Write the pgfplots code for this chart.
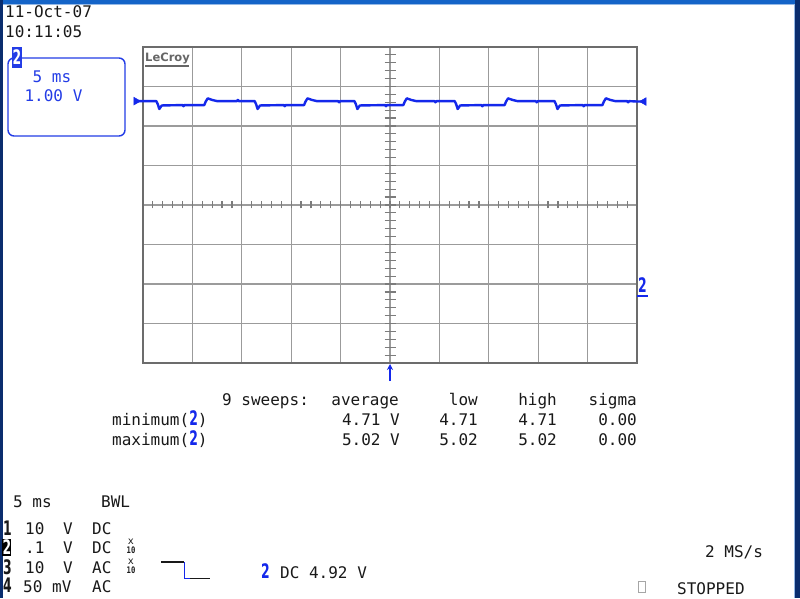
\documentclass[border=0pt]{standalone}
\usepackage{pgfplots}
\pgfplotsset{compat=1.18}
\usepackage{fontspec}
\setmainfont{DejaVu Sans Mono}
\newfontfamily\sansfam{DejaVu Sans}
\usetikzlibrary{arrows.meta}
\definecolor{scopeblue}{RGB}{20,40,235}
\definecolor{uiblue}{RGB}{35,60,230}
\definecolor{frameblue}{RGB}{20,100,200}
\definecolor{framedark}{RGB}{10,45,110}
\definecolor{gridgray}{RGB}{155,155,155}
\definecolor{txt}{RGB}{25,25,25}
\newcommand{\chn}[1]{\scalebox{0.62}[1.0]{\sansfam\bfseries\fontsize{20}{20}\selectfont #1}}
\begin{document}
\begin{tikzpicture}[x=1pt,y=1pt,font=\fontsize{16}{19}\selectfont,
  t/.style={anchor=base west,inner sep=0pt,text=txt},
  te/.style={anchor=base east,inner sep=0pt,text=txt}]
\path[use as bounding box, fill=white] (0,0) rectangle (800,598);
% outer window frame
\fill[frameblue] (0,594) rectangle (800,598);
\fill[frameblue!45!white] (0,592.5) rectangle (800,594);
\fill[framedark] (0,0) rectangle (3,598);
\fill[framedark] (795,0) rectangle (800,598);
\fill[frameblue!45!white] (793.5,0) rectangle (795,592.5);

\begin{axis}[at={(143pt,235pt)}, anchor=south west,
  width=494pt, height=316pt, scale only axis,
  xmin=0, xmax=10, ymin=-4, ymax=4,
  xtick={0,1,...,10}, ytick={-4,-3,...,4},
  xticklabels={}, yticklabels={},
  tick style={draw=none},
  grid=major, grid style={gridgray, line width=1.3pt},
  axis line style={gridgray!70!black, line width=1.3pt},
  clip=false]
\addplot[scopeblue, line width=2.4pt, line join=round] coordinates {
(-0.12,2.63) (0.00,2.63) (0.27,2.63) (0.30,2.55) (0.33,2.43) (0.38,2.52)
(0.80,2.53) (0.82,2.50) (0.84,2.53) (1.24,2.53)
(1.27,2.62) (1.31,2.70) (1.40,2.66) (1.50,2.63)
(1.90,2.63) (1.92,2.66) (1.94,2.63) (2.26,2.63) (2.29,2.55) (2.32,2.43) (2.37,2.52)
(2.85,2.53) (2.87,2.50) (2.89,2.53) (3.26,2.53)
(3.29,2.62) (3.33,2.70) (3.42,2.66) (3.52,2.63)
(3.95,2.63) (3.97,2.60) (3.99,2.63) (4.28,2.63) (4.31,2.55) (4.34,2.43) (4.39,2.52)
(4.90,2.53) (4.92,2.50) (4.94,2.53) (5.27,2.53)
(5.30,2.62) (5.34,2.70) (5.43,2.66) (5.53,2.63)
(5.90,2.63) (5.92,2.60) (5.94,2.63) (6.31,2.63) (6.34,2.55) (6.37,2.43) (6.42,2.52)
(6.85,2.53) (6.87,2.50) (6.89,2.53) (7.32,2.53)
(7.35,2.62) (7.39,2.70) (7.48,2.66) (7.58,2.63)
(7.95,2.63) (7.97,2.60) (7.99,2.63) (8.33,2.63) (8.36,2.55) (8.39,2.43) (8.44,2.52)
(8.90,2.53) (8.92,2.50) (8.94,2.53) (9.30,2.53)
(9.33,2.62) (9.37,2.70) (9.46,2.66) (9.56,2.63)
(9.80,2.63) (9.82,2.60) (9.84,2.63) (10.00,2.62) (10.12,2.62)
};
\addplot[scopeblue, only marks, mark=triangle*, mark size=4.5pt,
  mark options={rotate=-90}] coordinates {(-0.14,2.63)};
\addplot[scopeblue, only marks, mark=triangle*, mark size=4.5pt,
  mark options={rotate=90}] coordinates {(10.14,2.62)};
\end{axis}

% center cross minor ticks
\foreach \i in {1,...,49} {
  \draw[gridgray!80!black, line width=1.2pt] ({143+\i*9.88},389.5) -- ({143+\i*9.88},396.5);
}
\foreach \j in {1,...,39} {
  \draw[gridgray!80!black, line width=1.2pt] (384.5,{235+\j*7.9}) -- (395.5,{235+\j*7.9});
}
% LeCroy logo
\node[anchor=base west, inner sep=0pt, text=gray!80!black, font=\sansfam\bfseries\fontsize{11.5}{12}\selectfont] at (145,536) {LeCroy};
\draw[gray!80!black, line width=1.2pt] (145,532) -- (189,532);

% trigger arrow
\draw[scopeblue, line width=1.2pt, -{Stealth[length=6pt,width=6pt]}] (390,217) -- (390,234);
% channel 2 ground marker
\node[anchor=base west, inner sep=0pt, text=scopeblue] at (638,306) {\chn{2}};
\draw[scopeblue, line width=1.2pt] (637,302) -- (648,302);

% date/time
\node[t] at (5,580) {11-Oct-07};
\node[t] at (5,560) {10:11:05};

% channel info box
\draw[uiblue, line width=1.4pt, rounded corners=6pt] (8,462) rectangle (125,540);
\fill[uiblue] (12,530) rectangle (22,551);
\node[anchor=base, inner sep=0pt, text=white] at (17,533) {\chn{2}};
\node[anchor=base, inner sep=0pt, text=uiblue] at (52,515) {5 ms};
\node[anchor=base, inner sep=0pt, text=uiblue] at (53.5,496) {1.00 V};

% measurement table
\node[t] at (222,193) {9 sweeps:};
\node[te] at (399,193) {average};
\node[te] at (478,193) {low};
\node[te] at (557,193) {high};
\node[te] at (637,193) {sigma};
\node[t] at (112,173) {minimum(\textcolor{scopeblue}{\chn{2}})};
\node[te] at (400,173) {4.71 V};
\node[te] at (478,173) {4.71};
\node[te] at (557,173) {4.71};
\node[te] at (637,173) {0.00};
\node[t] at (112,153) {maximum(\textcolor{scopeblue}{\chn{2}})};
\node[te] at (400,153) {5.02 V};
\node[te] at (478,153) {5.02};
\node[te] at (557,153) {5.02};
\node[te] at (637,153) {0.00};

% bottom-left channel list
\node[t] at (13,91) {5 ms};
\node[t] at (101,91) {BWL};
\node[t] at (3,63) {\chn{1}};
\fill[black] (2,42.5) rectangle (10.5,59.5);
\node[anchor=base west, inner sep=0pt, text=white] at (2.5,44) {\chn{2}};
\node[t] at (3,24) {\chn{3}};
\node[t] at (3,5.5) {\chn{4}};
\node[t] at (25,64) {10};
\node[t] at (63,64) {V};
\node[t] at (92,64) {DC};
\node[t] at (25,45) {.1};
\node[t] at (63,45) {V};
\node[t] at (92,45) {DC};
\node[t] at (25,25) {10};
\node[t] at (63,25) {V};
\node[t] at (92,25) {AC};
\node[t] at (23,6) {50};
\node[t] at (52,6) {mV};
\node[t] at (92,6) {AC};
\foreach \yy in {45,25} {
  \node[anchor=base, inner sep=0pt, text=txt, font=\fontsize{10}{10}\selectfont] at (131,\yy+8.5) {x};
  \node[anchor=base, inner sep=0pt, text=txt, font=\bfseries\fontsize{9}{9}\selectfont] at (131,\yy) {\scalebox{0.8}[1]{10}};
}
% trigger slope symbol
\draw[txt, line width=1.2pt] (161,36) -- (184,36);
\draw[scopeblue, line width=1.6pt] (184.5,36) -- (184.5,19.5) -- (190,19.5);
\draw[txt, line width=1.2pt] (190,19.5) -- (210,19.5);
\node[anchor=base west, inner sep=0pt, text=scopeblue] at (261,20) {\chn{2}};
\node[t] at (280,20) {DC 4.92 V};

% right-bottom status
\node[t] at (705,41) {2 MS/s};
\draw[gray!70, line width=0.8pt] (638.5,6) rectangle (645.5,17);
\node[t] at (677,3.5) {STOPPED};
\end{tikzpicture}
\end{document}
